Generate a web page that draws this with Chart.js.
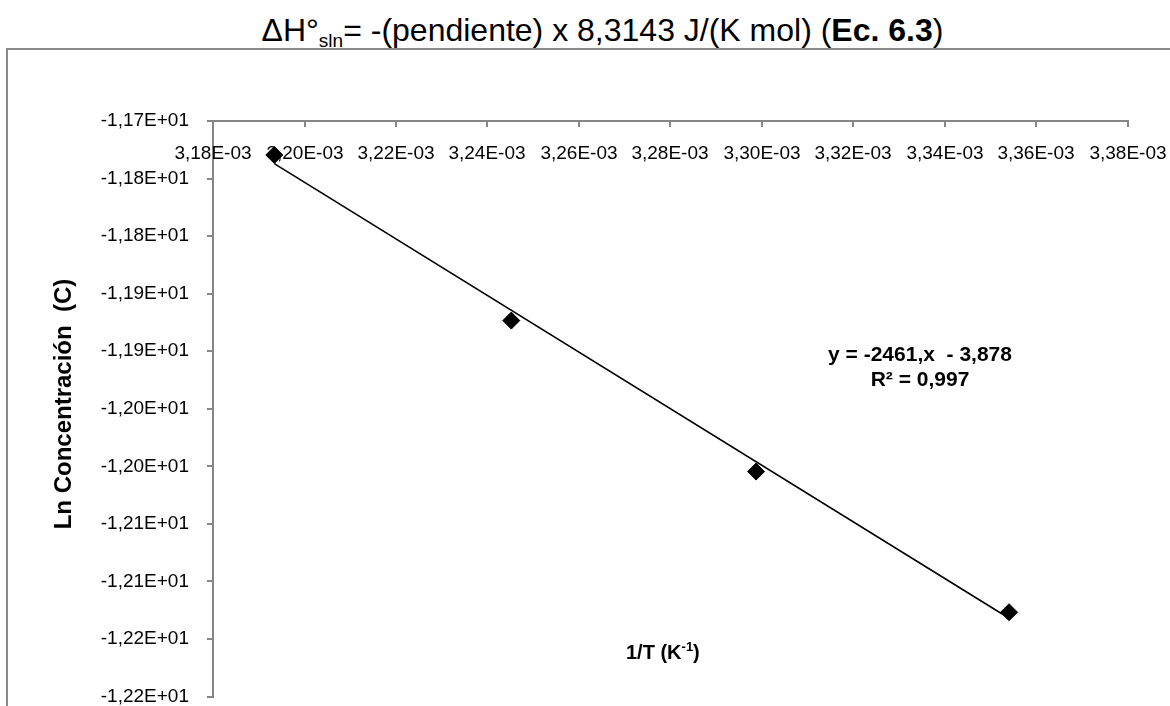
<!DOCTYPE html>
<html>
<head>
<meta charset="utf-8">
<script src="https://cdn.jsdelivr.net/npm/chart.js@4.4.1/dist/chart.umd.min.js"></script>
<style>
  body { margin: 0; background: #fff; overflow: hidden; width: 1170px; height: 706px; position: relative; }
  #titulo { position: absolute; left: 0; top: 14px; width: 1205px; text-align: center; font: 32px 'Liberation Sans', Arial, sans-serif; line-height: 32px; color: #000; }
  #titulo sub { font-size: 19px; vertical-align: -6px; line-height: 0; }
  #marco { position: absolute; left: 6px; top: 48px; width: 1300px; height: 800px; border: 2px solid #8a8a8a; }
  #myChart1 { position: absolute; left: 0; top: 0; }
</style>
</head>
<body>
<div id="titulo">ΔH°<sub>sln</sub>= -(pendiente) x 8,3143 J/(K mol) (<b>Ec. 6.3</b>)</div>
<div id="marco"></div>
<canvas id="myChart1" width="1170" height="706"></canvas>
<script>
// datos
let invT = [3.1934e-3, 3.2452e-3, 3.2987e-3, 3.3540e-3];
let lnC = [-11.7295, -11.8734, -12.0046, -12.1268];

// linea de tendencia (extremos)
let trendX = [3.1934e-3, 3.3540e-3];
let trendY = [-11.737, -12.132];

let xTicks = [3.18e-3, 3.20e-3, 3.22e-3, 3.24e-3, 3.26e-3, 3.28e-3, 3.30e-3, 3.32e-3, 3.34e-3, 3.36e-3, 3.38e-3];
let xTickLabels = ['3,18E-03', '3,20E-03', '3,22E-03', '3,24E-03', '3,26E-03', '3,28E-03', '3,30E-03', '3,32E-03', '3,34E-03', '3,36E-03', '3,38E-03'];
let yTicks = [-11.70, -11.75, -11.80, -11.85, -11.90, -11.95, -12.00, -12.05, -12.10, -12.15, -12.20];
let yTickLabels = ['-1,17E+01', '-1,18E+01', '-1,18E+01', '-1,19E+01', '-1,19E+01', '-1,20E+01', '-1,20E+01', '-1,21E+01', '-1,21E+01', '-1,22E+01', '-1,22E+01'];

const FONT = "'Liberation Sans', Arial, sans-serif";
const GRIS = '#868686';

const textos = {
    id: 'textos',
    afterDraw(chart) {
        const c = chart.ctx;
        const xs = chart.scales.x;
        const top = chart.chartArea.top;
        c.save();
        // marcas y etiquetas del eje x (debajo de la linea del eje)
        c.strokeStyle = GRIS;
        c.lineWidth = 2;
        c.fillStyle = '#000';
        c.font = '19px ' + FONT;
        c.textAlign = 'center';
        c.textBaseline = 'middle';
        xs.ticks.forEach((t, i) => {
            const px = Math.round(xs.getPixelForValue(t.value));
            c.beginPath();
            c.moveTo(px, top);
            c.lineTo(px, top + 6);
            c.stroke();
            c.fillText(xTickLabels[i], px, top + 33);
        });
        // titulo eje x
        const x0 = 626, y0 = 653;
        c.textAlign = 'left';
        c.font = 'bold 20px ' + FONT;
        c.fillText('1/T (K', x0, y0);
        let w = c.measureText('1/T (K').width;
        c.font = 'bold 13px ' + FONT;
        c.fillText('-1', x0 + w, y0 - 6);
        let w2 = c.measureText('-1').width;
        c.font = 'bold 20px ' + FONT;
        c.fillText(')', x0 + w + w2, y0);
        // titulo eje y
        c.save();
        c.translate(64, 404);
        c.rotate(-Math.PI / 2);
        c.textAlign = 'center';
        c.font = 'bold 24px ' + FONT;
        c.fillText('Ln Concentración  (C)', 0, 0);
        c.restore();
        // ecuacion
        c.textAlign = 'center';
        c.font = 'bold 21px ' + FONT;
        c.fillText('y = -2461,x  - 3,878', 920, 355);
        c.fillText('R² = 0,997', 920, 380);
        c.restore();
    }
};

let ctx = document.getElementById('myChart1').getContext('2d');
let myChart1 = new Chart(ctx, {
    type: 'scatter',
    data: {
        datasets: [{
            data: invT.map((v, i) => ({ x: v, y: lnC[i] })),
            pointStyle: 'rectRot',
            pointRadius: 8.5,
            backgroundColor: '#000',
            borderColor: '#000',
            borderWidth: 1,
            showLine: false,
            order: 0
        }, {
            data: trendX.map((v, i) => ({ x: v, y: trendY[i] })),
            showLine: true,
            borderColor: '#000',
            borderWidth: 1.6,
            pointRadius: 0,
            order: 1
        }]
    },
    options: {
        responsive: false,
        animation: false,
        devicePixelRatio: 1,
        layout: {
            padding: { left: 0, top: 0, right: 42, bottom: 8 }
        },
        plugins: {
            legend: { display: false },
            tooltip: { enabled: false }
        },
        scales: {
            x: {
                type: 'linear',
                position: 'top',
                min: 3.18e-3,
                max: 3.38e-3,
                afterBuildTicks: (s) => { s.ticks = xTicks.map(v => ({ value: v })); },
                afterFit: (s) => { s.height = 121; s.paddingLeft = 0; s.paddingRight = 0; },
                ticks: { display: false },
                grid: { drawOnChartArea: false, drawTicks: false },
                border: { display: true, color: GRIS, width: 2 }
            },
            y: {
                type: 'linear',
                position: 'left',
                min: -12.20,
                max: -11.70,
                afterBuildTicks: (s) => { s.ticks = yTicks.map(v => ({ value: v })); },
                afterFit: (s) => { s.width = 213; s.paddingTop = 0; s.paddingBottom = 0; },
                ticks: {
                    color: '#000',
                    padding: 18,
                    font: { family: FONT, size: 19 },
                    callback: (value) => yTickLabels[yTicks.indexOf(value)]
                },
                grid: { drawOnChartArea: false, drawTicks: true, tickLength: 6, color: GRIS, lineWidth: 2 },
                border: { display: true, color: GRIS, width: 2 }
            }
        }
    },
    plugins: [textos]
});
</script>
</body>
</html>
